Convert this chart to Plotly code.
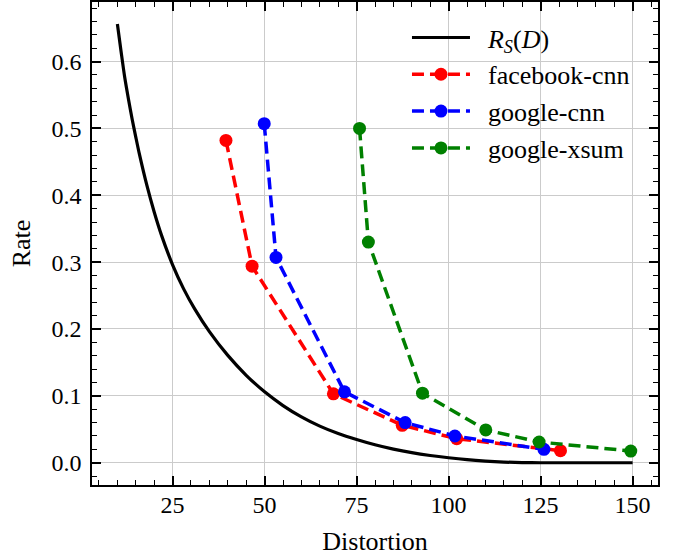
import plotly.graph_objects as go

# Theoretical rate-distortion curve R_S(D)
rd_distortion = [10, 11, 12, 13, 14, 15, 16, 18, 20, 22, 25, 28, 31, 35, 40, 45, 50, 55, 60, 65,
                 70, 75, 80, 85, 90, 95, 100, 105, 110, 115, 120, 125, 130, 140, 150]
rd_rate = [0.656, 0.615, 0.576, 0.544, 0.514, 0.487, 0.461, 0.415, 0.375, 0.340, 0.296, 0.260, 0.230,
           0.196, 0.1605, 0.1308, 0.106, 0.0855, 0.0686, 0.0548, 0.0437, 0.0347, 0.0268, 0.0203,
           0.015, 0.0108, 0.0074, 0.0046, 0.0025, 0.001, 0.0002, 0.0, 0.0, 0.0, 0.0]

fb_cnn_distortion = [39.5, 46.6, 68.7, 87.4, 102.2, 130.4]
fb_cnn_rate = [0.482, 0.294, 0.103, 0.056, 0.036, 0.018]

g_cnn_distortion = [49.9, 53.1, 71.7, 88.2, 101.7, 125.9]
g_cnn_rate = [0.507, 0.307, 0.106, 0.060, 0.040, 0.020]

g_xsum_distortion = [75.8, 78.2, 92.9, 110.1, 124.6, 149.5]
g_xsum_rate = [0.500, 0.330, 0.104, 0.049, 0.031, 0.0175]

x_ticks = [25, 50, 75, 100, 125, 150]
y_ticks = [0.0, 0.1, 0.2, 0.3, 0.4, 0.5, 0.6]

FONT = "'Liberation Serif', 'Times New Roman', Times, serif"
PAD = "&nbsp;&nbsp;"

fig = go.Figure()
fig.add_trace(go.Scatter(x=rd_distortion, y=rd_rate, mode="lines",
                         line=dict(color="black", width=3.2, shape="spline", smoothing=0.8),
                         name=PAD + "<i>R</i><sub><i>S</i></sub>(<i>D</i>)", legendgroup="a"))
series = [
    (fb_cnn_distortion, fb_cnn_rate, "red", "facebook-cnn", "b"),
    (g_cnn_distortion, g_cnn_rate, "blue", "google-cnn", "c"),
    (g_xsum_distortion, g_xsum_rate, "green", "google-xsum", "d"),
]
for xs, ys, col, name, grp in series:
    fig.add_trace(go.Scatter(x=xs, y=ys, mode="lines+markers", name=PAD + name, legendgroup=grp,
                             line=dict(color=col, width=3.5, dash="12px,6px"),
                             marker=dict(color=col, size=13)))

axis_common = dict(
    showline=True, linecolor="black", linewidth=1.5, mirror="allticks",
    ticks="inside", ticklen=9, tickwidth=1.5, tickcolor="black",
    showgrid=True, gridcolor="#cbcbcb", gridwidth=1, zeroline=False,
    tickfont=dict(family=FONT, size=24, color="black"),
    automargin=False,
)

fig.update_xaxes(range=[3.1, 156.9], tickvals=x_ticks, ticktext=[str(v) for v in x_ticks],
                 minor=dict(ticks="inside", ticklen=5, tickwidth=1.2, dtick=5, tick0=0,
                            tickcolor="black", showgrid=False),
                 title=dict(text="Distortion", font=dict(family=FONT, size=26, color="black"),
                            standoff=19),
                 ticklabelstandoff=-3,
                 **axis_common)
fig.update_yaxes(range=[-0.0333, 0.689], tickvals=y_ticks, ticktext=[f"{v:.1f}" for v in y_ticks],
                 minor=dict(ticks="inside", ticklen=5, tickwidth=1.2, dtick=0.02, tick0=0,
                            tickcolor="black", showgrid=False),
                 title=dict(text="Rate", font=dict(family=FONT, size=26, color="black"),
                            standoff=13),
                 ticklabelstandoff=4,
                 **axis_common)

fig.update_layout(
    width=673, height=556,
    margin=dict(l=92, r=15, t=2, b=71),
    paper_bgcolor="white", plot_bgcolor="white",
    font=dict(family=FONT, color="black"),
    legend=dict(x=0.5565, y=0.975, xanchor="left", yanchor="top",
                bgcolor="rgba(0,0,0,0)", borderwidth=0,
                font=dict(family=FONT, size=26, color="black"),
                itemwidth=58, tracegroupgap=0),
)

fig.write_html("out.html", config={"displayModeBar": False},
               post_script="document.body.style.margin='0px';document.body.style.padding='0px';")
